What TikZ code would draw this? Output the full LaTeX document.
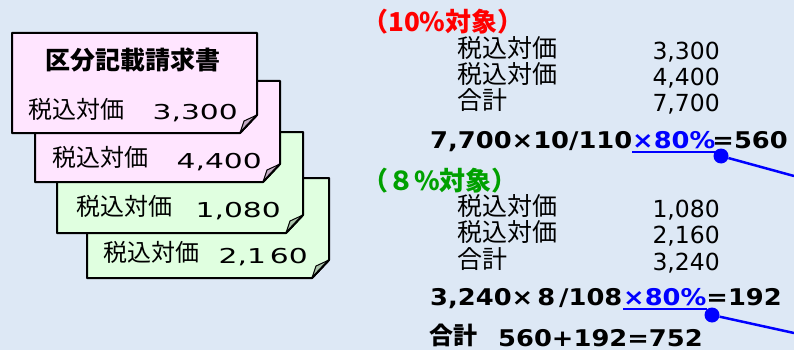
\documentclass[tikz,border=0pt]{standalone}
\usepackage{fontspec}
\setmainfont{DejaVu Sans}
\newfontfamily\jp{Noto Sans CJK JP}
\newfontfamily\dvwide[FakeStretch=1.45]{DejaVu Sans}
\newfontfamily\dvb[FakeStretch=1.12]{DejaVu Sans Bold}
\definecolor{bg}{HTML}{DDE8F5}
\definecolor{pinkc}{HTML}{FFE5FF}
\definecolor{pinkf}{HTML}{C4ACC4}
\definecolor{greenc}{HTML}{E0FFE0}
\definecolor{greenf}{HTML}{ACC4AC}
\definecolor{redt}{HTML}{FF0000}
\definecolor{greent}{HTML}{00A000}
\definecolor{bluet}{HTML}{0000FF}
\newcommand\mycard[6]{%
  \filldraw[#5, draw=black, line width=2pt, line join=round]
    (#1,#2) -- (#3,#2) -- (#3,#4-18) -- (#3-17,#4) -- (#1,#4) -- cycle;
  \filldraw[#6, draw=black, line width=1pt, line join=round]
    (#3,#4-18) .. controls (#3-6,#4-15) .. (#3-13,#4-12) -- (#3-17,#4) -- cycle;
  \draw[line width=2pt, line cap=round] (#3,#4-18) -- (#3-17,#4);
}
\begin{document}
\begin{tikzpicture}[x=1pt,y=-1pt,
  cjk/.style={inner sep=0pt, font=\jp\fontsize{24}{24}\selectfont},
  cnum/.style={inner sep=0pt, font=\dvwide\fontsize{20.5}{20.5}\selectfont},
  rcjk/.style={inner sep=0pt, font=\jp\fontsize{25}{25}\selectfont},
  rnum/.style={inner sep=0pt, font=\fontsize{23.5}{23.5}\selectfont},
  head/.style={inner sep=0pt, font=\jp\bfseries\fontsize{26}{26}\selectfont},
  form/.style={inner sep=0pt, font=\dvb\fontsize{23}{23}\selectfont},
  link/.style={bluet, line width=2.5pt},
  dot/.style={circle, fill=bluet, minimum size=15pt, inner sep=0pt}]
\fill[bg] (0,0) rectangle (794,350);
\useasboundingbox (0,0) rectangle (794,350);
% cards (back to front)
\mycard{87}{178}{329}{278}{greenc}{greenf}
\mycard{57}{132}{303}{233}{greenc}{greenf}
\mycard{35}{81}{280}{182}{pinkc}{pinkf}
\mycard{12}{33}{257}{133}{pinkc}{pinkf}
\node[inner sep=0pt, font=\jp\bfseries\fontsize{25}{25}\selectfont] (title) at (133,60) {区分記載請求書};
\node[cjk, anchor=base west] (c1l) at (28,118) {税込対価};
\node[cnum, anchor=base east] (c1n) at (238,120) {3,300};
\node[cjk, anchor=base west] (c2l) at (52,166) {税込対価};
\node[cnum, anchor=base east] (c2n) at (262,168) {4,400};
\node[cjk, anchor=base west] (c3l) at (76,215) {税込対価};
\node[cnum, anchor=base east] (c3n) at (281,217) {1,080};
\node[cjk, anchor=base west] (c4l) at (103,261) {税込対価};
\node[cnum, anchor=base east] (c4n) at (308,263) {2,1\hspace{4pt}60};
% right side: 10 percent
\node[head, text=redt, anchor=base west] (h1) at (362,32) {（10\%対象）};
\node[rcjk, anchor=base west] (r1l) at (457,58) {税込対価};
\node[rnum, anchor=base east] (r1n) at (720,60) {3,300};
\node[rcjk, anchor=base west] (r2l) at (457,84) {税込対価};
\node[rnum, anchor=base east] (r2n) at (720,86) {4,400};
\node[rcjk, anchor=base west] (r3l) at (457,110) {合計};
\node[rnum, anchor=base east] (r3n) at (720,112) {7,700};
\node[form, anchor=base west] (f1a) at (430,148) {7,700×10/110};
\node[form, anchor=base west, text=bluet] (f1b) at (632,148) {×80\%};
\node[form, anchor=base east] (f1c) at (788,148) {=560};
\draw[bluet, line width=2pt] ([yshift=-4pt]f1b.base west) -- ([yshift=-4pt]f1b.base east);
\node[dot] (d1) at (721,156) {};
\coordinate (e1) at (794,176);
\draw[link] (d1) -- (e1);
% right side: 8 percent
\node[head, text=greent, anchor=base west] (h2) at (362,190) {（８\%対象）};
\node[rcjk, anchor=base west] (s1l) at (457,215) {税込対価};
\node[rnum, anchor=base east] (s1n) at (720,217) {1,080};
\node[rcjk, anchor=base west] (s2l) at (457,241) {税込対価};
\node[rnum, anchor=base east] (s2n) at (720,243) {2,160};
\node[rcjk, anchor=base west] (s3l) at (457,268) {合計};
\node[rnum, anchor=base east] (s3n) at (720,270) {3,240};
\node[form, anchor=base west] (f2a) at (430,305) {3,240×\hspace{4pt}8\hspace{4pt}/108};
\node[form, anchor=base west, text=bluet] (f2b) at (623,305) {×80\%};
\node[form, anchor=base east] (f2c) at (782,305) {=192};
\draw[bluet, line width=2pt] ([yshift=-4pt]f2b.base west) -- ([yshift=-4pt]f2b.base east);
\node[dot] (d2) at (712,315) {};
\coordinate (e2) at (794,333);
\draw[link] (d2) -- (e2);
% total
\node[inner sep=0pt, font=\jp\bfseries\fontsize{24}{24}\selectfont, anchor=base west] (tl) at (429,344) {合計};
\node[form, anchor=base west] (tn) at (498,346) {560+192=752};
\end{tikzpicture}
\end{document}
